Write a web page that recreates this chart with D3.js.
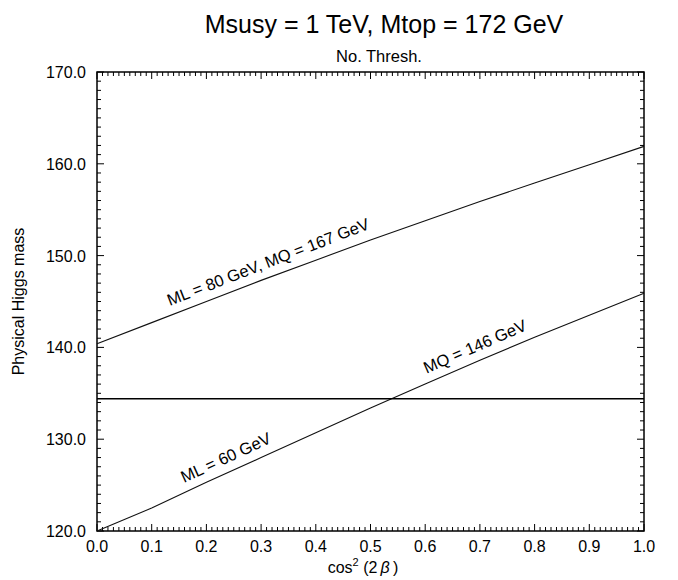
<!DOCTYPE html>
<html>
<head>
<meta charset="utf-8">
<script src="https://cdn.jsdelivr.net/npm/d3@7"></script>
<style>
  body { margin: 0; background: #fff; }
  text { font-family: "Liberation Sans", Arial, Helvetica, sans-serif; fill: #000; }
</style>
</head>
<body>
<div id="chart"></div>
<script>
// data
var cos2b = [0.0, 0.1, 0.2, 0.3, 0.4, 0.5, 0.6, 0.7, 0.8, 0.9, 1.0];
var upperMass = [140.4, 142.7, 145.0, 147.3, 149.5, 151.7, 153.8, 155.9, 157.9, 159.9, 161.9];
var lowerMass = [120.0, 122.5, 125.3, 128.0, 130.7, 133.4, 136.0, 138.6, 141.1, 143.5, 145.9];
var flatMass = 134.4;
var xTicks = [0.0, 0.1, 0.2, 0.3, 0.4, 0.5, 0.6, 0.7, 0.8, 0.9, 1.0];
var yTicks = [120, 130, 140, 150, 160, 170];
var labels = [
  {text: "ML = 80 GeV, MQ = 167 GeV", x: 0.139, series: "upper"},
  {text: "ML = 60 GeV", x: 0.166, series: "lower"},
  {text: "MQ = 146 GeV", x: 0.609, series: "lower"}
];

// set the dimensions and margins of the graph
var margin = {top: 72, right: 34, bottom: 49, left: 97},
    width = 678 - margin.left - margin.right,
    height = 580 - margin.top - margin.bottom;

var svg = d3.select("#chart").append("svg")
    .attr("width", 678)
    .attr("height", 580);

var g = svg.append("g")
    .attr("transform", "translate(" + margin.left + "," + margin.top + ")");

// set the ranges
var x = d3.scaleLinear().domain([0, 1]).range([0, width]);
var y = d3.scaleLinear().domain([120, 170]).range([height, 0]);

// minor + major ticks, all pointing inwards
var xMinor = d3.range(0, 101).map(function(i) { return i / 100; });
var yMinor = d3.range(120, 171);

function tickLen(isMajor) { return isMajor ? 7 : 4; }

xMinor.forEach(function(v, i) {
  var len = tickLen(i % 10 === 0);
  g.append("line").attr("x1", x(v)).attr("x2", x(v))
    .attr("y1", height).attr("y2", height - len)
    .attr("stroke", "#000").attr("stroke-width", 1);
  g.append("line").attr("x1", x(v)).attr("x2", x(v))
    .attr("y1", 0).attr("y2", len)
    .attr("stroke", "#000").attr("stroke-width", 1);
});

yMinor.forEach(function(v) {
  var len = tickLen(v % 10 === 0);
  g.append("line").attr("x1", 0).attr("x2", len)
    .attr("y1", y(v)).attr("y2", y(v))
    .attr("stroke", "#000").attr("stroke-width", 1);
  g.append("line").attr("x1", width).attr("x2", width - len)
    .attr("y1", y(v)).attr("y2", y(v))
    .attr("stroke", "#000").attr("stroke-width", 1);
});

// tick labels
g.selectAll(".xlab")
  .data(xTicks)
  .enter().append("text")
    .attr("class", "xlab")
    .attr("x", function(d) { return x(d); })
    .attr("y", height + 21)
    .attr("text-anchor", "middle")
    .style("font-size", "16px")
    .text(function(d) { return d3.format(".1f")(d); });

g.selectAll(".ylab")
  .data(yTicks)
  .enter().append("text")
    .attr("class", "ylab")
    .attr("x", -11)
    .attr("y", function(d) { return y(d) + 6; })
    .attr("text-anchor", "end")
    .style("font-size", "16px")
    .text(function(d) { return d3.format(".1f")(d); });

// frame
g.append("rect")
  .attr("width", width).attr("height", height)
  .attr("fill", "none").attr("stroke", "#000").attr("stroke-width", 1.5);

// curves
var line = d3.line()
  .x(function(d) { return x(d[0]); })
  .y(function(d) { return y(d[1]); });

g.append("path")
  .datum(d3.zip(cos2b, upperMass))
  .attr("d", line)
  .attr("fill", "none").attr("stroke", "#111").attr("stroke-width", 1.1);

g.append("path")
  .datum(d3.zip(cos2b, lowerMass))
  .attr("d", line)
  .attr("fill", "none").attr("stroke", "#111").attr("stroke-width", 1.1);

g.append("line")
  .attr("x1", x(0)).attr("x2", x(1))
  .attr("y1", y(flatMass)).attr("y2", y(flatMass))
  .attr("stroke", "#000").attr("stroke-width", 1.5);

// labels along the curves
var interp = {
  upper: d3.scaleLinear().domain(cos2b).range(upperMass),
  lower: d3.scaleLinear().domain(cos2b).range(lowerMass)
};
labels.forEach(function(l) {
  var f = interp[l.series];
  var px = x(l.x), py = y(f(l.x));
  var ang = Math.atan2(y(f(l.x + 0.1)) - py, x(l.x + 0.1) - px) * 180 / Math.PI;
  g.append("text")
    .attr("transform", "translate(" + px + "," + py + ") rotate(" + ang + ") translate(0,-9)")
    .style("font-size", "16.5px")
    .text(l.text);
});

// titles
svg.append("text")
  .attr("x", 384).attr("y", 33)
  .attr("text-anchor", "middle")
  .style("font-size", "25px")
  .text("Msusy = 1 TeV, Mtop = 172 GeV");

svg.append("text")
  .attr("x", 379).attr("y", 62)
  .attr("text-anchor", "middle")
  .style("font-size", "16.5px")
  .text("No. Thresh.");

// axis titles
svg.append("text")
  .attr("transform", "translate(24," + (margin.top + height / 2) + ") rotate(-90)")
  .attr("text-anchor", "middle")
  .style("font-size", "16px")
  .text("Physical Higgs mass");

var xt = svg.append("text")
  .attr("x", 363).attr("y", 573)
  .attr("text-anchor", "middle")
  .style("font-size", "16px");
xt.append("tspan").text("cos");
xt.append("tspan").attr("dy", -7).style("font-size", "11px").text("2");
xt.append("tspan").attr("dy", 7).text(" (2");
xt.append("tspan").style("font-style", "italic").text("\u2009\u03b2");
xt.append("tspan").text("\u2009)");
</script>
</body>
</html>
